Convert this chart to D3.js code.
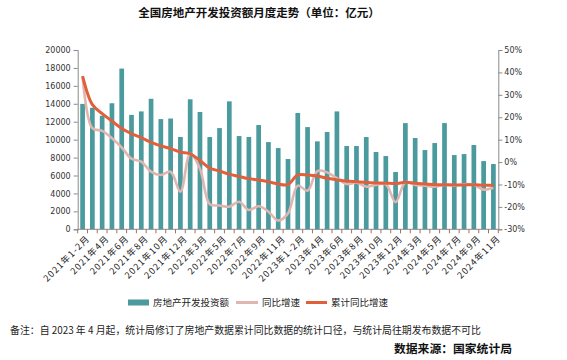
<!DOCTYPE html>
<html><head><meta charset="utf-8">
<script src="https://cdn.jsdelivr.net/npm/d3@7/dist/d3.min.js"></script>
<style>
html,body{margin:0;padding:0;background:#fff;}
svg{display:block;}
</style></head>
<body><svg id="chart" width="567" height="360"></svg>
<script>
const categories = ["2021年1-2月","2021年3月","2021年4月","2021年5月","2021年6月","2021年7月","2021年8月","2021年9月","2021年10月","2021年11月","2021年12月",
"2022年1-2月","2022年3月","2022年4月","2022年5月","2022年6月","2022年7月","2022年8月","2022年9月","2022年10月","2022年11月","2022年12月",
"2023年1-2月","2023年3月","2023年4月","2023年5月","2023年6月","2023年7月","2023年8月","2023年9月","2023年10月","2023年11月","2023年12月",
"2024年1-2月","2024年3月","2024年4月","2024年5月","2024年6月","2024年7月","2024年8月","2024年9月","2024年10月","2024年11月"];
const tickLabels = ["2021年1-2月","2021年4月","2021年6月","2021年8月","2021年10月","2021年12月","2022年3月","2022年5月","2022年7月","2022年9月","2022年11月",
"2023年1-2月","2023年4月","2023年6月","2023年8月","2023年10月","2023年12月","2024年3月","2024年5月","2024年7月","2024年9月","2024年11月"];
const investment = [13986,13550,12672,14060,17927,12762,13150,14559,12293,12356,10300,
14499,13080,10290,11290,14270,10400,10300,11630,9730,9060,7840,
12970,11400,9810,10850,13150,9290,9290,10290,8620,8170,6390,
11842,10180,8840,9620,11850,8280,8390,9400,7610,7280];
const monthlyYoY = [38.3,15.1,13.9,10.6,6.5,1.5,0.2,-4.3,-5.8,-4.3,-13.2,
3.7,-3.0,-18.8,-19.4,-19.9,-17.7,-21.4,-19.7,-22.1,-26.1,-22.9,
-10.5,-12.8,-4.0,-4.6,-7.2,-9.8,-9.2,-11.0,-10.2,-9.9,-17.9,
-9.0,-10.2,-10.5,-11.0,-10.2,-10.5,-9.9,-10.1,-12.3,-11.5];
const cumulativeYoY = [38.3,25.6,21.6,18.3,15.0,12.7,10.9,8.8,7.2,6.0,4.4,
3.7,0.7,-2.7,-4.0,-5.4,-6.4,-7.4,-8.0,-8.8,-9.8,-10.0,
-5.7,-5.8,-6.2,-7.2,-7.9,-8.5,-8.8,-9.1,-9.3,-9.4,-9.6,
-9.0,-9.5,-9.8,-10.1,-10.1,-10.2,-10.2,-10.1,-10.3,-10.4];
const leftTicks = [0,2000,4000,6000,8000,10000,12000,14000,16000,18000,20000];
const rightTicks = [-30,-20,-10,0,10,20,30,40,50];
const seriesNames = ["房地产开发投资额","同比增速","累计同比增速"];

const svg = d3.select("#chart");
const L = 77.7, R = 498.3, T = 50, B = 229.3;
const numFont = "DejaVu Sans, sans-serif";
const cjkFont = "'Noto Sans CJK SC', sans-serif";
const barColor = "#4a9a9e", pinkColor = "#e0b7b0", redColor = "#e0603c";

const x = d3.scaleBand().domain(categories).range([L, R]).paddingInner(0.52).paddingOuter(0.26);
const yL = d3.scaleLinear().domain([0, 20000]).range([B, T]);
const yR = d3.scaleLinear().domain([-30, 50]).range([B, T]);

// title
svg.append("text").attr("x", 259).attr("y", 17).attr("text-anchor", "middle")
  .attr("font-family", cjkFont).attr("font-weight", "bold").attr("font-size", 11.5).attr("fill", "#111")
  .text("全国房地产开发投资额月度走势（单位：亿元）");

// bars
svg.append("g").selectAll("rect").data(investment).join("rect")
  .attr("x", (d, i) => x(categories[i]))
  .attr("width", x.bandwidth())
  .attr("y", d => yL(d))
  .attr("height", d => yL(0) - yL(d))
  .attr("fill", barColor);

// lines
const cx = (d, i) => x(categories[i]) + x.bandwidth() / 2;
const lineGen = d3.line().x(cx).y(d => yR(d)).curve(d3.curveCatmullRom.alpha(0.5));
svg.append("path").datum(monthlyYoY).attr("d", lineGen).attr("fill", "none")
  .attr("stroke", pinkColor).attr("stroke-width", 2.6).attr("stroke-linejoin", "round");
svg.append("path").datum(cumulativeYoY).attr("d", lineGen).attr("fill", "none")
  .attr("stroke", redColor).attr("stroke-width", 3).attr("stroke-linejoin", "round");

// left axis
const gL = svg.append("g").attr("transform", `translate(${L},0)`)
  .call(d3.axisLeft(yL).tickValues(leftTicks).tickSize(4).tickPadding(3).tickFormat(d3.format("d")));
// right axis
const gR = svg.append("g").attr("transform", `translate(${R},0)`)
  .call(d3.axisRight(yR).tickValues(rightTicks).tickSize(4).tickPadding(2).tickFormat(d => d + "%"));
[gL, gR].forEach(g => {
  g.select(".domain").attr("stroke", "#8a8a8a");
  g.selectAll(".tick line").attr("stroke", "#8a8a8a");
  g.selectAll(".tick text").attr("font-family", numFont).attr("font-size", 8).attr("fill", "#333");
});

// bottom axis
const gB = svg.append("g").attr("transform", `translate(0,${B})`);
gB.append("line").attr("x1", L).attr("x2", R).attr("stroke", "#8a8a8a");
const step = x.step();
const boundaries = categories.map((c, i) => x(c) - x.paddingInner() * step / 2).concat([R]);
gB.selectAll(".bt").data(boundaries).join("line").attr("class", "bt")
  .attr("x1", d => d).attr("x2", d => d).attr("y1", 0).attr("y2", 4).attr("stroke", "#a07060");
gB.selectAll(".bl").data(tickLabels).join("text").attr("class", "bl")
  .attr("transform", d => `translate(${x(d) + x.bandwidth() / 2 + 4},${6}) rotate(-45)`)
  .attr("text-anchor", "end").attr("dy", "0.6em")
  .attr("font-family", cjkFont).attr("font-size", 9).attr("letter-spacing", 1.1).attr("fill", "#222")
  .text(d => d);

// legend
const lg = svg.append("g");
lg.append("rect").attr("x", 128).attr("y", 299.5).attr("width", 21).attr("height", 6).attr("fill", barColor);
lg.append("text").attr("x", 153).attr("y", 306).text(seriesNames[0]);
lg.append("line").attr("x1", 236).attr("x2", 258).attr("y1", 302.5).attr("y2", 302.5).attr("stroke", pinkColor).attr("stroke-width", 3);
lg.append("text").attr("x", 262).attr("y", 306).text(seriesNames[1]);
lg.append("line").attr("x1", 306).attr("x2", 327).attr("y1", 302.5).attr("y2", 302.5).attr("stroke", redColor).attr("stroke-width", 3);
lg.append("text").attr("x", 331).attr("y", 306).text(seriesNames[2]);
lg.selectAll("text").attr("font-family", cjkFont).attr("font-size", 9.5).attr("fill", "#222");

// notes
svg.append("text").attr("x", 10).attr("y", 334)
  .attr("font-family", cjkFont).attr("font-size", 9.9).attr("fill", "#222")
  .text("备注：自 2023 年 4 月起，统计局修订了房地产数据累计同比数据的统计口径，与统计局往期发布数据不可比");
svg.append("text").attr("x", 512).attr("y", 353).attr("text-anchor", "end")
  .attr("font-family", cjkFont).attr("font-weight", "bold").attr("font-size", 11.8).attr("fill", "#111")
  .text("数据来源：国家统计局");
</script></body></html>
